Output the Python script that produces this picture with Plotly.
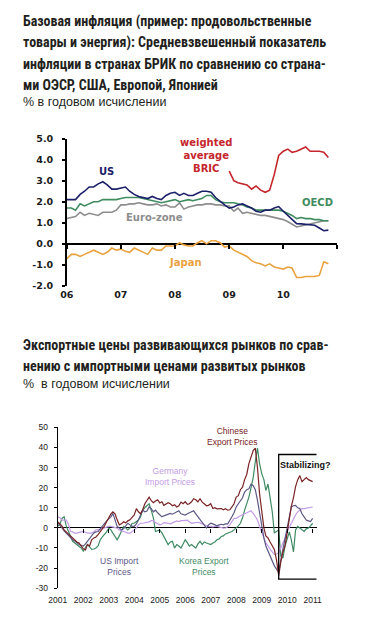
import pandas as pd
import plotly.graph_objects as go

W, H = 379, 619

# ---------------- chart 1 data (monthly, Jan 2006 - Nov 2010) ----------------
months1 = pd.date_range("2006-01-01", periods=59, freq="MS")
us = [2.1, 2.1, 2.1, 2.35, 2.5, 2.7, 2.7, 2.85, 2.95, 2.8, 2.6, 2.6,
      2.65, 2.7, 2.5, 2.35, 2.25, 2.2, 2.15, 2.25, 2.15, 2.1, 2.3, 2.4,
      2.45, 2.3, 2.4, 2.3, 2.3, 2.4, 2.5, 2.5, 2.45, 2.2, 2.0, 1.85,
      1.7, 1.75, 1.85, 1.9, 1.8, 1.7, 1.55, 1.5, 1.6, 1.6, 1.7, 1.77,
      1.55, 1.35, 1.15, 0.96, 0.95, 0.92, 0.9, 0.88, 0.75, 0.62, 0.65]
oecd = [1.7, 1.7, 1.6, 1.9, 1.8, 1.9, 2.0, 2.0, 2.1, 2.1, 2.1, 2.1,
        2.15, 2.2, 2.2, 2.2, 2.2, 2.15, 2.1, 2.05, 2.0, 1.95, 2.0, 2.05,
        2.1, 2.0, 2.05, 2.1, 2.05, 2.1, 2.15, 2.3, 2.3, 2.1, 2.0, 1.95,
        1.95, 1.95, 1.9, 1.85, 1.75, 1.7, 1.6, 1.6, 1.6, 1.6, 1.6, 1.6,
        1.55, 1.45, 1.35, 1.2, 1.25, 1.2, 1.2, 1.15, 1.15, 1.1, 1.1]
euro = [1.2, 1.25, 1.3, 1.5, 1.35, 1.45, 1.4, 1.35, 1.5, 1.5, 1.5, 1.6,
        1.85, 1.85, 1.9, 1.9, 1.95, 1.9, 1.85, 1.85, 1.9, 1.8, 1.85, 1.75,
        1.75, 1.95, 1.65, 1.75, 1.8, 1.85, 1.85, 1.9, 1.9, 1.85, 1.85, 1.8,
        1.8, 1.55, 1.7, 1.45, 1.5, 1.45, 1.4, 1.35, 1.35, 1.3, 1.25, 1.2,
        1.15, 1.05, 0.95, 0.8, 0.85, 0.9, 0.95, 1.0, 1.05, 1.1, 1.1]
japan = [-0.7, -0.5, -0.5, -0.6, -0.5, -0.4, -0.3, -0.4, -0.5, -0.4, -0.2, -0.3,
         -0.25, -0.35, -0.4, -0.2, -0.3, -0.4, -0.5, -0.2, -0.3, -0.3, -0.1, -0.1,
         -0.1, 0.05, -0.05, -0.1, -0.1, 0.05, 0.15, 0.0, 0.15, 0.15, 0.05, -0.15,
         -0.1, -0.3, -0.4, -0.5, -0.6, -0.8, -0.9, -0.95, -1.05, -0.95, -1.1, -1.15,
         -1.2, -1.1, -1.15, -1.6, -1.6, -1.55, -1.55, -1.55, -1.5, -0.85, -0.95]
bric_start = 36  # Jan 2009
bric = [3.45, 3.0, 2.9, 2.85, 2.8, 2.6, 2.75, 2.55, 2.45, 2.55, 3.3, 4.2,
        4.4, 4.5, 4.35, 4.4, 4.5, 4.6, 4.4, 4.4, 4.4, 4.35, 4.1]
y1_ticks = [-2, -1, 0, 1, 2, 3, 4, 5]
y1_labels = ["-2.0", "-1.0", "0.0", "1.0", "2.0", "3.0", "4.0", "5.0"]
x1_years = ["2006-01-01", "2007-01-01", "2008-01-01", "2009-01-01", "2010-01-01"]
x1_labels = ["06", "07", "08", "09", "10"]
x1_zero_ticks = x1_years + ["2011-01-01"]

# ---------------- chart 2 data (monthly, Jan 2001 - Jan 2011) ----------------
months2 = pd.date_range("2001-01-01", periods=121, freq="MS")
chinese = [3, 2, 1, -1, -2, -3, -4, -5, -6, -7, -7.5, -9,
           -10.4, -11, -8.3, -9, -6, -5, -4.5, -3.4, -2, -1, 1, 3,
           5, 7, 8, 7, 4, 1.5, 2, 3, 2.5, 3.5, 4, 5,
           6.4, 9.6, 8, 7, 9, 12, 13.5, 15.3, 13.5, 12.5, 13.4, 14,
           12.4, 13, 11.2, 12, 12.5, 12, 11, 11.5, 10.4, 11, 12.8, 12,
           13, 11.7, 12, 13, 14.5, 14, 13, 14.5, 12.8, 12, 11, 11.2,
           12, 9.6, 10, 9.5, 9.6, 9.6, 9, 9.5, 8.8, 9, 10.4, 12,
           15.3, 16, 19, 20.2, 24, 26.7, 32, 35.7, 38.5, 39.7, 30, 17,
           7, 0, -4, -5, -7, -9, -10.7, -16, -23.8, -17, -12, -9,
           -2, 4, 10.7, 15, 20.5, 24, 26, 23, 24, 25, 24, 23.5,
           23]
us_import = [2.6, 1.5, 0, -1.5, -2.6, -4, -5, -5.9, -6.5, -7.5, -8.3, -8.7,
             -9.1, -8, -6.7, -5, -3.4, -2.5, -2, -1.8, -0.5, 1, 2.3, 3.5,
             4.5, 5.5, 7.2, 4, 0.7, 0, -1, -0.5, 1, 2.3, 1.5, 0.7,
             0.7, 2, 3.9, 6, 8.8, 8, 8.4, 10.4, 9.5, 8, 8.8, 7.5,
             6.5, 5.5, 6, 6.4, 7, 7.2, 6.8, 7.5, 8, 8.5, 7, 6.8,
             6.4, 7, 7.5, 8, 8.5, 7, 5.5, 4, 2.3, 1, -0.1, 1.5,
             2.3, 2, 1.5, 1, 1.5, 1.8, 1.5, 2, 2, 3.5, 5.5, 7.5,
             10.4, 12, 13.7, 15, 17.8, 19, 19.4, 21.8, 21, 19, 13.7, 7,
             2, -5, -9, -11.6, -14, -16, -18.9, -20.5, -22.2, -16, -10.7, -4,
             0.7, 5, 10.4, 11, 11.2, 10, 9.6, 7, 5.5, 3.9, 3.5, 3.1,
             4.7]
germany = [5.5, 5, 3.9, 3.9, 3.9, 2, -1.8, -2, -2.6, -2.6, -2.3, -2,
           -1.8, -2.2, -2.6, -2.6, -2.6, -2, -1, -1, -0.5, -0.1, 0, 0.5,
           0.7, 0.7, 0.5, 0, -0.1, -1, -1.5, -1.8, -2.2, -2.6, -2.6, -2,
           -1, 0, 1.5, 2.3, 2.3, 2.5, 2.6, 3, 3.6, 3.6, 2.6, 2,
           1.5, 1.8, 2.6, 2.5, 2.2, 2, 2.5, 3.1, 3.5, 3.1, 3.6, 3.6,
           3.6, 3.8, 3, 2.3, 2.5, 2.6, 2.8, 2.5, 2, 1.5, 1, 0.7,
           0.7, 0.5, 0.7, 0.8, 0.5, 0, -0.1, 0, 0.5, 1.5, 3, 4.7,
           4.7, 5.5, 6, 6.5, 7.2, 7.5, 8, 8.5, 7.2, 5.5, 3.9, 0.7,
           -2, -5, -7.5, -9, -10.7, -12, -13.2, -13, -12.4, -10, -8.3, -5,
           -1.8, 0.5, 2.3, 4.5, 6.4, 8, 8.8, 9.6, 9.6, 9.8, 10, 10.2,
           10.4]
korea = [0.7, 2, 4.7, 5.5, 1, -1.8, -4, -6.7, -7.5, -8.3, -9, -10,
         -11.6, -10, -8.3, -9.5, -10.7, -10.5, -10, -9, -5.9, -4.5, -3.4, -2,
         -0.1, -1, -2.6, -4, -5.9, -4, -1.8, 0.7, 0, -1, 0, 2.3,
         2.3, 3, 3.9, 5.5, 8.8, 10, 11.2, 12, 8.8, 5, -1.8, -1.5,
         -1, -2.5, -4.3, -6, -8.3, -7, -6.7, -10, -8.3, -9, -10, -8,
         -5.9, -7.5, -9.1, -8.3, -9, -10, -8, -6.7, -8.3, -7, -7.5, -8,
         -8.3, -7.5, -7, -5.9, -5.5, -4.3, -4, -3, -2.6, -2, -1.8, -1,
         -0.1, 1, 2.3, 5, 8.8, 12, 15.3, 20, 25.1, 33, 39.7, 32,
         27, 24, 18.6, 21.8, 15, 8, -2.6, -2, -1, -14, -15, -9,
         -5, -2, -6, -12, -1, 0.7, -0.1, -1, -1.8, -0.5, -0.1, 1,
         2.3]
y2_ticks = [-30, -20, -10, 0, 10, 20, 30, 40, 50]
y2_labels = ["-30", "-20", "-10", "0", "10", "20", "30", "40", "50"]
x2_years = ["%d-01-01" % y for y in range(2001, 2012)]
x2_labels = [str(y) for y in range(2001, 2012)]
box_x = ["2009-09-01", "2011-09-15"]
box_y = [-25.5, 36.5]

# ---------------- layout geometry (pixels) ----------------
def px_x(p):
    return p / W

def px_y(p):
    return 1 - p / H

C_US, C_BRIC, C_OECD, C_EURO, C_JAP = "#1d2069", "#c4262c", "#3f8c60", "#8d8d8d", "#e9a23e"
C_CN, C_USI, C_DE, C_KR = "#7a2426", "#5c5886", "#c39be6", "#3f8b64"

fig = go.Figure()

def add_line(x, y, color, xa, ya, width):
    fig.add_trace(go.Scatter(x=x, y=y, mode="lines", line=dict(color=color, width=width),
                             xaxis=xa, yaxis=ya, hoverinfo="skip", showlegend=False))

add_line(months1, euro, C_EURO, "x", "y", 1.6)
add_line(months1, oecd, C_OECD, "x", "y", 1.6)
add_line(months1, us, C_US, "x", "y", 1.6)
add_line(months1, japan, C_JAP, "x", "y", 1.6)
add_line(months1[bric_start:bric_start + len(bric)], bric, C_BRIC, "x", "y", 1.6)

add_line(months2, korea, C_KR, "x2", "y2", 1.2)
add_line(months2, germany, C_DE, "x2", "y2", 1.2)
add_line(months2, us_import, C_USI, "x2", "y2", 1.2)
add_line(months2, chinese, C_CN, "x2", "y2", 1.2)

# helper traces to register the zero-line tick axes
fig.add_trace(go.Scatter(x=x1_zero_ticks, y=[None] * len(x1_zero_ticks), xaxis="x3", yaxis="y",
                         mode="lines", hoverinfo="skip", showlegend=False))
fig.add_trace(go.Scatter(x=x2_years, y=[None] * len(x2_years), xaxis="x4", yaxis="y2",
                         mode="lines", hoverinfo="skip", showlegend=False))

top_dom_y = [px_y(285), px_y(135)]
bot_dom_y = [px_y(592.7), px_y(429)]
top_dom_x = [px_x(60), px_x(341)]
bot_dom_x = [px_x(50.7), px_x(319.3)]
r1 = ["2006-01-01", "2011-01-01"]
r2 = ["2001-01-01", "2011-02-25"]
zero1 = top_dom_y[0] + (0 - (-2)) / 7 * (top_dom_y[1] - top_dom_y[0])
zero2 = bot_dom_y[0] + (0 - (-30)) / 80 * (bot_dom_y[1] - bot_dom_y[0])

tick_font1 = dict(family="DejaVu Sans", size=9.5, color="#1a1a1a", weight="bold")
tick_font2 = dict(family="Liberation Sans, Arial", size=8.5, color="#1a1a1a")

fig.update_layout(
    width=W, height=H, margin=dict(l=0, r=0, t=0, b=0),
    paper_bgcolor="white", plot_bgcolor="rgba(0,0,0,0)",
    xaxis=dict(domain=top_dom_x, anchor="y", type="date", range=r1, tickmode="array",
               tickvals=x1_years, ticktext=x1_labels, showgrid=False, zeroline=False,
               showline=False, ticks="", ticklabelstandoff=2, tickfont=tick_font1),
    yaxis=dict(domain=top_dom_y, anchor="x", range=[-2, 5], tickmode="array",
               tickvals=y1_ticks, ticktext=y1_labels, showgrid=False, zeroline=True,
               zerolinecolor="black", zerolinewidth=1.5, showline=True, linecolor="black",
               linewidth=1.5, ticks="outside", ticklen=3, tickwidth=1.5, tickcolor="black",
               ticklabelstandoff=7, tickfont=tick_font1),
    xaxis3=dict(overlaying="x", anchor="free", position=zero1, side="bottom", type="date",
                range=r1, tickmode="array", tickvals=x1_zero_ticks, showticklabels=False,
                ticks="outside", ticklen=4, tickwidth=1.5, tickcolor="black",
                showgrid=False, zeroline=False, showline=False),
    xaxis2=dict(domain=bot_dom_x, anchor="y2", type="date", range=r2, tickmode="array",
                tickvals=x2_years, ticktext=x2_labels, showgrid=False, zeroline=False,
                showline=False, ticks="", ticklabelstandoff=5, tickfont=tick_font2),
    yaxis2=dict(domain=bot_dom_y, anchor="x2", range=[-30, 50], tickmode="array",
                tickvals=y2_ticks, ticktext=y2_labels, showgrid=False, zeroline=True,
                zerolinecolor="black", zerolinewidth=1.3, showline=True, linecolor="black",
                linewidth=1.3, ticks="outside", ticklen=3, tickwidth=1.2, tickcolor="black",
                ticklabelstandoff=4, tickfont=tick_font2),
    xaxis4=dict(overlaying="x2", anchor="free", position=zero2, side="bottom", type="date",
                range=r2, tickmode="array", tickvals=x2_years, showticklabels=False,
                ticks="outside", ticklen=4, tickwidth=1.2, tickcolor="black",
                showgrid=False, zeroline=False, showline=False),
)

# box around "Stabilizing?"
fig.add_shape(type="rect", xref="x2", yref="y2", x0=box_x[0], x1=box_x[1], y0=box_y[0], y1=box_y[1],
              line=dict(color="black", width=1.3), fillcolor="rgba(0,0,0,0)")

# titles
title_font = dict(family="Roboto Condensed, DejaVu Sans Condensed, Liberation Sans Narrow, Roboto",
                  size=14, color="#231f20", weight="bold")
sub_font = dict(family="Liberation Sans, Arial", size=12.5, color="#231f20")
title1 = ["Базовая инфляция (пример: продовольственные",
          "товары и энергия): Средневзвешенный показатель",
          "инфляции в странах БРИК по сравнению со страна-",
          "ми ОЭСР, США, Европой, Японией"]
title1_y = [16, 37.5, 59, 80.5]
sub1 = "% в годовом исчислении"
title2 = ["Экспортные цены развивающихся рынков по срав-",
          "нению с импортными ценами развитых рынков"]
title2_y = [345.5, 367]
sub2 = "%  в годовом исчислении"

for t, yy in zip(title1, title1_y):
    fig.add_annotation(text=t, xref="paper", yref="paper", x=px_x(12), y=px_y(yy),
                       xanchor="left", yanchor="middle", showarrow=False, font=title_font)
fig.add_annotation(text=sub1, xref="paper", yref="paper", x=px_x(12), y=px_y(98),
                   xanchor="left", yanchor="middle", showarrow=False, font=sub_font)
for t, yy in zip(title2, title2_y):
    fig.add_annotation(text=t, xref="paper", yref="paper", x=px_x(12), y=px_y(yy),
                       xanchor="left", yanchor="middle", showarrow=False, font=title_font)
fig.add_annotation(text=sub2, xref="paper", yref="paper", x=px_x(12), y=px_y(385),
                   xanchor="left", yanchor="middle", showarrow=False, font=sub_font)

# series labels, chart 1
lab1 = dict(family="DejaVu Sans", size=10, weight="bold")
labels1 = [("US", 101, 168, C_US), ("weighted<br>average<br>BRIC", 205, 152, C_BRIC),
           ("OECD", 320, 200, C_OECD), ("Euro-zone", 151, 215, C_EURO), ("Japan", 183, 261, C_JAP)]
for t, xx, yy, c in labels1:
    fig.add_annotation(text=t, xref="paper", yref="paper", x=px_x(xx), y=px_y(yy),
                       xanchor="center", yanchor="middle", showarrow=False,
                       font=dict(lab1, color=c), align="center")

# series labels, chart 2
lab2 = dict(family="Liberation Sans, Arial", size=8.5)
labels2 = [("Chinese<br>Export Prices", 232, 438, C_CN), ("Germany<br>Import Prices", 167, 479, C_DE),
           ("US Import<br>Prices", 115, 571, C_USI), ("Korea Export<br>Prices", 202, 571, C_KR)]
for t, xx, yy, c in labels2:
    fig.add_annotation(text=t, xref="paper", yref="paper", x=px_x(xx), y=px_y(yy),
                       xanchor="center", yanchor="middle", showarrow=False,
                       font=dict(lab2, color=c), align="center")
fig.add_annotation(text="Stabilizing?", xref="paper", yref="paper", x=px_x(308), y=px_y(467),
                   xanchor="center", yanchor="middle", showarrow=False,
                   font=dict(family="Liberation Sans, Arial", size=9, color="#111", weight="bold"))

fig.write_html("out.html", config={"displayModeBar": False},
               post_script="document.body.style.margin='0';document.body.style.padding='0';")
